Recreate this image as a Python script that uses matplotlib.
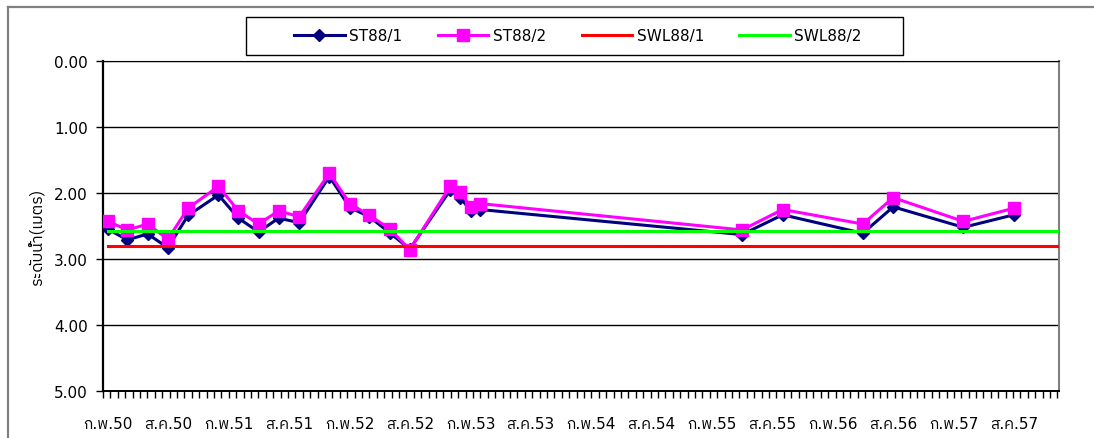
import numpy as np
import matplotlib
matplotlib.use("Agg")
import matplotlib.pyplot as plt
import matplotlib.dates as mdates
from matplotlib import font_manager
from matplotlib.ft2font import FT2Font
from matplotlib.lines import Line2D
from matplotlib.patches import Rectangle

# observation dates and water levels (m below ground)
dates = ["2007-02-01", "2007-04-01", "2007-06-01", "2007-08-01", "2007-10-01",
         "2008-01-01", "2008-03-01", "2008-05-01", "2008-07-01", "2008-09-01",
         "2008-12-01", "2009-02-01", "2009-04-01", "2009-06-01", "2009-08-01",
         "2009-12-01", "2010-01-01", "2010-02-01", "2010-03-01", "2012-05-01",
         "2012-09-01", "2013-05-01", "2013-08-01", "2014-03-01", "2014-08-01"]
st88_1 = [2.55, 2.71, 2.62, 2.83, 2.34, 2.03, 2.38, 2.59, 2.38, 2.45,
          1.75, 2.22, 2.36, 2.60, 2.85, 1.96, 2.07, 2.27, 2.25, 2.63,
          2.33, 2.61, 2.21, 2.52, 2.33]
st88_2 = [2.43, 2.56, 2.47, 2.70, 2.23, 1.90, 2.27, 2.47, 2.27, 2.36,
          1.70, 2.16, 2.34, 2.54, 2.86, 1.90, 1.99, 2.21, 2.16, 2.56,
          2.25, 2.47, 2.07, 2.43, 2.23]

# static water levels
swl_dates = ["2007-02-01", "2014-12-15"]
swl88_1 = 2.80
swl88_2 = 2.57

tick_dates = ["2007-02-01", "2007-08-01", "2008-02-01", "2008-08-01",
              "2009-02-01", "2009-08-01", "2010-02-01", "2010-08-01",
              "2011-02-01", "2011-08-01", "2012-02-01", "2012-08-01",
              "2013-02-01", "2013-08-01", "2014-02-01", "2014-08-01"]
tick_labels = ["ก.พ.50", "ส.ค.50", "ก.พ.51", "ส.ค.51", "ก.พ.52", "ส.ค.52",
               "ก.พ.53", "ส.ค.53", "ก.พ.54", "ส.ค.54", "ก.พ.55", "ส.ค.55",
               "ก.พ.56", "ส.ค.56", "ก.พ.57", "ส.ค.57"]


def thai_family():
    """Return the name of an installed family that can draw Thai script."""
    found = []
    for f in font_manager.fontManager.ttflist:
        try:
            if 0x0E01 in FT2Font(f.fname).get_charmap():
                found.append(f.name)
        except Exception:
            pass
    found.sort(key=lambda n: ("Thai" not in n, n))
    return found[0] if found else "DejaVu Sans"


thai = thai_family()
plt.rcParams["font.family"] = ["DejaVu Sans", thai]

to_num = lambda ds: mdates.date2num(np.array(ds, dtype="datetime64[D]"))
W, H = 1094, 439

fig = plt.figure(figsize=(W / 100, H / 100), dpi=100)
ax = fig.add_axes([103 / W, 1 - 392 / H, 956 / W, 330 / H])

x = to_num(dates)
ax.plot(x, st88_1, color="#000080", lw=2.2, marker="D", ms=6.5, label="ST88/1", zorder=3)
ax.plot(x, st88_2, color="#FF00FF", lw=2.2, marker="s", ms=8, label="ST88/2", zorder=4)
xs = to_num(swl_dates)
ax.plot(xs, [swl88_1, swl88_1], color="#FF0000", lw=2.2, label="SWL88/1", zorder=5)
ax.plot(xs, [swl88_2, swl88_2], color="#00FF00", lw=2.2, label="SWL88/2", zorder=6)

# y axis: depth increases downward
ax.set_ylim(5, 0)
ax.set_yticks(np.arange(0, 5.01, 1))
ax.yaxis.set_major_formatter(matplotlib.ticker.FormatStrFormatter("%.2f"))
ax.grid(axis="y", color="black", lw=1)
ax.tick_params(axis="y", direction="out", length=5, width=1, labelsize=11, pad=6)

# x axis
xlo, xhi = to_num(["2007-01-17", "2014-12-15"])
ax.set_xlim(xlo, xhi)
ax.set_xticks(to_num(tick_dates))
ax.set_xticklabels(tick_labels, fontsize=11)
ax.set_xticks(np.arange(xlo, xhi + 1, 22.36), minor=True)
ax.tick_params(axis="x", which="major", length=0, pad=18)
ax.tick_params(axis="x", which="minor", direction="out", length=5, width=1)

for side in ("left", "bottom", "top"):
    ax.spines[side].set_color("black")
ax.spines["left"].set_linewidth(1.6)
ax.spines["bottom"].set_linewidth(1.4)
ax.spines["right"].set_color("#808080")
ax.spines["right"].set_linewidth(1.5)

fig.text(37 / W, 1 - 237 / H, "ระดับน้ำ(เมตร)", rotation=90,
         ha="center", va="center", fontsize=11.5, family=[thai, "DejaVu Sans"])

# legend entries spread across the box, box drawn separately
leg = fig.legend(loc="center", ncol=4, numpoints=1,
                 bbox_to_anchor=(282 / W, 1 - 56 / H, 592 / W, 38 / H),
                 mode="expand", fontsize=11, frameon=False,
                 handlelength=3.3, handletextpad=0.3, borderpad=0.3)
fig.add_artist(Rectangle((246 / W, 1 - 56 / H), 657 / W, 38 / H,
                         transform=fig.transFigure, fill=False,
                         edgecolor="black", lw=1.0))

# outer chart border (top and left edges run off the image)
fig.add_artist(Line2D([8 / W, 1.05], [1 - 7.5 / H, 1 - 7.5 / H],
                      transform=fig.transFigure, color="#808080", lw=1.6))
fig.add_artist(Line2D([8 / W, 8 / W], [-0.05, 1 - 7.5 / H],
                      transform=fig.transFigure, color="#808080", lw=1.6))

fig.savefig("out.png", dpi=100, facecolor="white")
